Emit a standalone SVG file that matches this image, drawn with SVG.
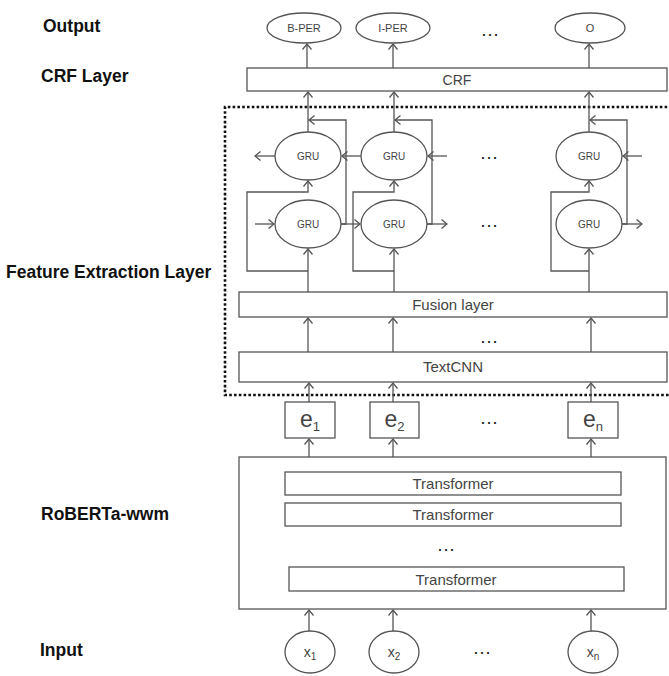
<svg xmlns="http://www.w3.org/2000/svg" width="669" height="676" viewBox="0 0 669 676">
<defs>
<marker id="a" viewBox="-7 -5 8 10" refX="0" refY="0" markerWidth="8" markerHeight="10" markerUnits="userSpaceOnUse" orient="auto">
<path d="M-5.5,-4.5 L0,0 L-5.5,4.5" fill="none" stroke="#555" stroke-width="1.3"/>
</marker>
</defs>
<style>
.n{fill:#fff;stroke:#555;stroke-width:1.3}
.c{fill:none;stroke:#555;stroke-width:1.3}
.ar{fill:none;stroke:#555;stroke-width:1.3;marker-end:url(#a)}
.t{font-family:"Liberation Sans",Arial,sans-serif;fill:#444;text-anchor:middle}
.lb{font-family:"Liberation Sans",Arial,sans-serif;font-weight:bold;font-size:17.5px;fill:#111}
.d{font-family:"Liberation Sans",Arial,sans-serif;font-size:19px;fill:#222;text-anchor:middle}
</style>
<rect width="669" height="676" fill="#fff"/>

<g id="labels">
<text class="lb" x="43" y="32">Output</text>
<text class="lb" x="41" y="82">CRF Layer</text>
<text class="lb" x="6" y="278">Feature Extraction Layer</text>
<text class="lb" x="41" y="520">RoBERTa-wwm</text>
<text class="lb" x="40" y="656">Input</text>
</g>

<g id="feature-box">
<path d="M672,107 H225 V395 H672" fill="none" stroke="#111" stroke-width="2.6" stroke-dasharray="2.6,2.2"/>
</g>

<g id="connectors">
<line class="ar" x1="307" y1="68" x2="307" y2="44"/>
<line class="ar" x1="393" y1="68" x2="393" y2="44"/>
<line class="ar" x1="589" y1="68" x2="589" y2="44"/>
<line class="ar" x1="308" y1="132" x2="308" y2="92"/>
<line class="ar" x1="394" y1="132" x2="394" y2="92"/>
<line class="ar" x1="589" y1="132" x2="589" y2="92"/>
<polyline class="ar" points="341,224 346,224 346,120 309,120"/>
<polyline class="ar" points="427,224 432,224 432,120 395,120"/>
<polyline class="ar" points="622,224 627,224 627,120 590,120"/>
<line class="ar" x1="275" y1="156" x2="255" y2="156"/>
<line class="ar" x1="361" y1="156" x2="342" y2="156"/>
<line class="ar" x1="447" y1="156" x2="428" y2="156"/>
<line class="ar" x1="642" y1="156" x2="623" y2="156"/>
<line class="ar" x1="255" y1="224" x2="274" y2="224"/>
<line class="ar" x1="341" y1="224" x2="360" y2="224"/>
<line class="ar" x1="427" y1="224" x2="447" y2="224"/>
<line class="ar" x1="622" y1="224" x2="642" y2="224"/>
<line class="ar" x1="308" y1="292" x2="308" y2="249"/>
<line class="ar" x1="394" y1="292" x2="394" y2="249"/>
<line class="ar" x1="589" y1="292" x2="589" y2="249"/>
<polyline class="ar" points="308,271 247,271 247,192 308,192 308,181"/>
<polyline class="ar" points="394,271 353,271 353,192 394,192 394,181"/>
<polyline class="ar" points="589,271 551,271 551,192 589,192 589,181"/>
<line class="ar" x1="308" y1="352" x2="308" y2="318"/>
<line class="ar" x1="393" y1="352" x2="393" y2="318"/>
<line class="ar" x1="591" y1="352" x2="591" y2="318"/>
<line class="ar" x1="309" y1="402" x2="309" y2="383"/>
<line class="ar" x1="393" y1="402" x2="393" y2="383"/>
<line class="ar" x1="591" y1="402" x2="591" y2="383"/>
<line class="ar" x1="309" y1="457" x2="309" y2="439"/>
<line class="ar" x1="393" y1="457" x2="393" y2="439"/>
<line class="ar" x1="591" y1="457" x2="591" y2="439"/>
<line class="ar" x1="309" y1="631" x2="309" y2="610"/>
<line class="ar" x1="393" y1="631" x2="393" y2="610"/>
<line class="ar" x1="591" y1="631" x2="591" y2="610"/>
</g>

<g id="out-bper"><ellipse class="n" cx="304" cy="28" rx="37" ry="15"/><text class="t" x="304" y="32" font-size="11">B-PER</text></g>
<g id="out-iper"><ellipse class="n" cx="393" cy="28" rx="37" ry="15"/><text class="t" x="393" y="32" font-size="11">I-PER</text></g>
<g id="out-o"><ellipse class="n" cx="590" cy="28" rx="35" ry="15"/><text class="t" x="590" y="32" font-size="11">O</text></g>
<text class="d" x="490" y="36">…</text>

<g id="crf"><rect class="n" x="247" y="68" width="420" height="23"/><text class="t" x="457" y="85" font-size="14">CRF</text></g>

<g id="gru-b1"><ellipse class="n" cx="308" cy="156" rx="33" ry="24"/><text class="t" x="308" y="160" font-size="10">GRU</text></g>
<g id="gru-b2"><ellipse class="n" cx="394" cy="156" rx="33" ry="24"/><text class="t" x="394" y="160" font-size="10">GRU</text></g>
<g id="gru-b3"><ellipse class="n" cx="589" cy="156" rx="33" ry="24"/><text class="t" x="589" y="160" font-size="10">GRU</text></g>
<g id="gru-f1"><ellipse class="n" cx="308" cy="224" rx="33" ry="24"/><text class="t" x="308" y="228" font-size="10">GRU</text></g>
<g id="gru-f2"><ellipse class="n" cx="394" cy="224" rx="33" ry="24"/><text class="t" x="394" y="228" font-size="10">GRU</text></g>
<g id="gru-f3"><ellipse class="n" cx="589" cy="224" rx="33" ry="24"/><text class="t" x="589" y="228" font-size="10">GRU</text></g>
<text class="d" x="489" y="159">…</text>
<text class="d" x="489" y="227">…</text>

<g id="fusion"><rect class="n" x="239" y="292" width="428" height="25"/><text class="t" x="453" y="310" font-size="15">Fusion layer</text></g>
<text class="d" x="489" y="343">…</text>
<g id="textcnn"><rect class="n" x="239" y="352" width="428" height="30"/><text class="t" x="453" y="372" font-size="15">TextCNN</text></g>

<g id="e1"><rect class="n" x="285" y="402" width="50" height="36"/><text class="t" x="310" y="427" font-size="23">e<tspan font-size="13" dy="4">1</tspan></text></g>
<g id="e2"><rect class="n" x="370" y="402" width="49" height="36"/><text class="t" x="394.5" y="427" font-size="23">e<tspan font-size="13" dy="4">2</tspan></text></g>
<g id="en"><rect class="n" x="568" y="402" width="50" height="36"/><text class="t" x="593" y="427" font-size="23">e<tspan font-size="13" dy="4">n</tspan></text></g>
<text class="d" x="489" y="424">…</text>

<g id="roberta">
<rect class="n" x="239" y="457" width="427" height="152"/>
<rect class="n" x="285" y="472" width="336" height="23"/><text class="t" x="453" y="489" font-size="15">Transformer</text>
<rect class="n" x="285" y="503" width="336" height="23"/><text class="t" x="453" y="520" font-size="15">Transformer</text>
<text class="d" x="446" y="551">…</text>
<rect class="n" x="289" y="567" width="335" height="24"/><text class="t" x="456" y="585" font-size="15">Transformer</text>
</g>

<g id="x1"><ellipse class="n" cx="310" cy="652" rx="25" ry="21"/><text class="t" x="310" y="657" font-size="14">x<tspan font-size="10" dy="3">1</tspan></text></g>
<g id="x2"><ellipse class="n" cx="394" cy="652" rx="25" ry="21"/><text class="t" x="394" y="657" font-size="14">x<tspan font-size="10" dy="3">2</tspan></text></g>
<g id="xn"><ellipse class="n" cx="593" cy="652" rx="25" ry="21"/><text class="t" x="593" y="657" font-size="14">x<tspan font-size="10" dy="3">n</tspan></text></g>
<text class="d" x="482" y="654">…</text>
</svg>
